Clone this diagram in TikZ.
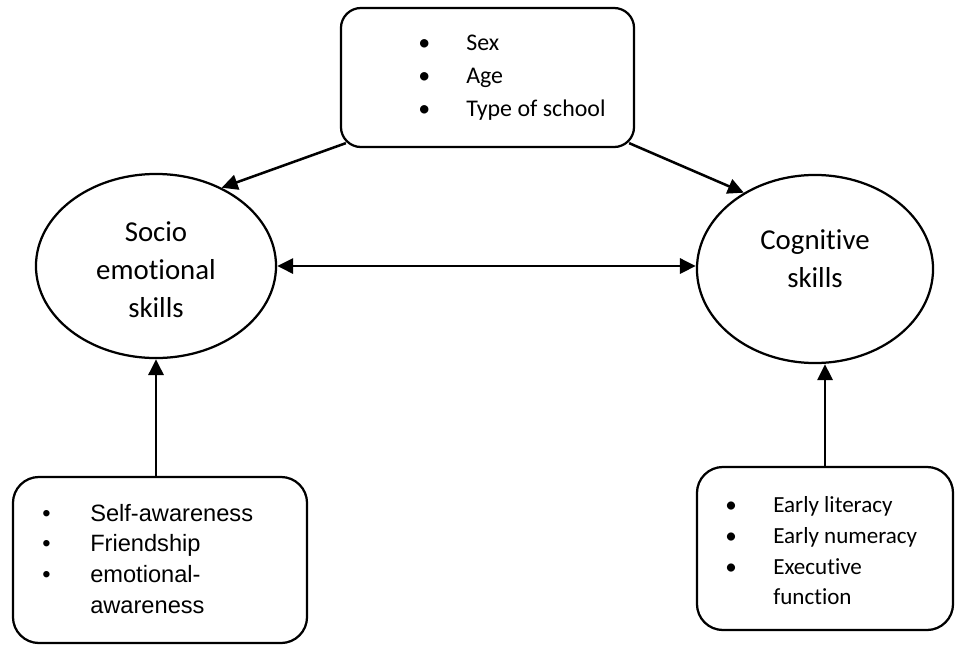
\documentclass[tikz,border=0pt]{standalone}
\usepackage{fontspec}
\setmainfont{Carlito}[Ligatures=CommonOff]
\newfontfamily\arialfont{Liberation Sans}
\usetikzlibrary{arrows.meta,shapes.geometric}
\newcommand{\bul}{\makebox[1.2cm][l]{\textbullet}}
\tikzset{
  every picture/.style={line join=round, >={Triangle[length=4mm,width=3.8mm]}},
  listbox/.style={draw, rounded corners=0.65cm, line width=1.6pt, inner sep=0pt},
  listtext/.style={anchor=west, align=left, inner sep=0pt},
  skill/.style={draw, ellipse, line width=1.6pt, inner sep=0pt},
  skilltext/.style={align=center, inner sep=0pt, font=\fontsize{20.5}{27}\selectfont},
  conn/.style={->, line width=1.8pt},
}

\begin{document}
\begin{tikzpicture}[x=0.025cm, y=-0.025cm]
\useasboundingbox (0,0) rectangle (955,645);
% top box
\node[listbox, rounded corners=0.5cm, minimum width=7.325cm, minimum height=3.475cm] (factors) at (487.5,77.5) {};
\node[listtext, font=\fontsize{17}{23.4}\selectfont] (factorlist) at (418,78) {\bul Sex\\ \bul Age\\ \bul Type of school};
% the two skills
\node[skill, minimum width=6cm, minimum height=4.6cm] (socio) at (156,266) {};
\node[skilltext] (sociotext) at (156,270) {Socio\\emotional\\skills};
\node[skill, minimum width=5.9cm, minimum height=4.7cm] (cog) at (815,269) {};
\node[skilltext] (cogtext) at (815,259) {Cognitive\\skills};
% bottom boxes
\node[listbox, minimum width=7.35cm, minimum height=4.15cm] (selfbox) at (160,560) {};
\node[listtext, font=\arialfont\fontsize{16.8}{22}\selectfont] (selflist) at (42,559) {\bul Self-awareness\\ \bul Friendship\\ \bul emotional-\\ \hspace*{1.2cm}awareness};
\node[listbox, minimum width=6.4cm, minimum height=4.075cm] (cogbox) at (825,548.5) {};
\node[listtext, font=\fontsize{16.4}{21.8}\selectfont] (coglist) at (725,551) {\bul Early literacy\\ \bul Early numeracy\\ \bul Executive\\ \hspace*{1.2cm}function};
% arrows
\draw[conn] ([shift={(6,-5)}]factors.south west) -- (socio.50);
\draw[conn] ([shift={(-6,-5)}]factors.south east) -- (cog.133);
\draw[<->, line width=1.8pt] (socio.east) -- (socio.east -| cog.west);
\draw[conn] (socio.south |- selfbox.north) -- (socio.south);
\draw[conn] (cogbox.north) -- (cogbox.north |- cog.south);
\end{tikzpicture}
\end{document}
